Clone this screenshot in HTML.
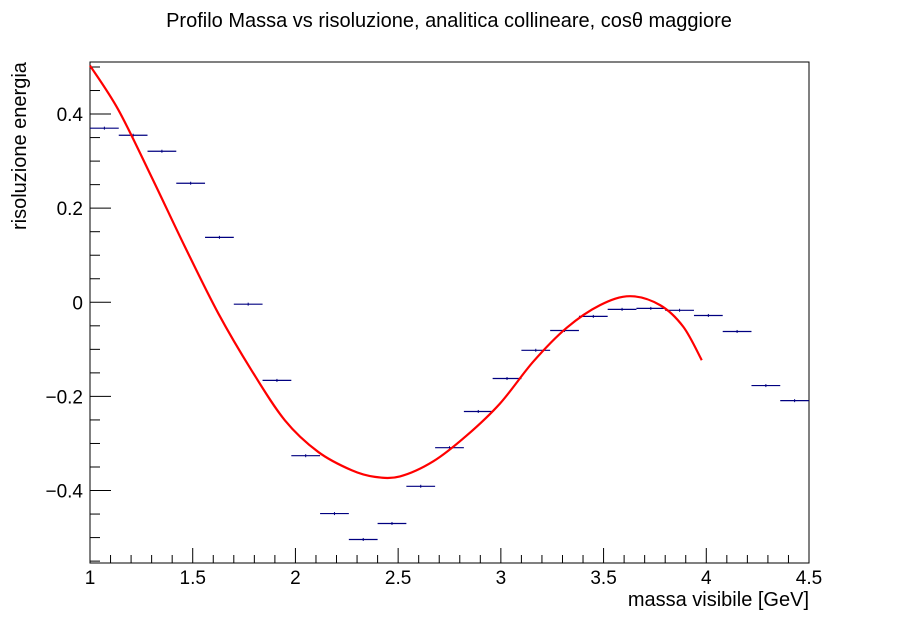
<!DOCTYPE html>
<html><head><meta charset="utf-8"><style>
body{margin:0;background:#fff}
svg text{font-family:"Liberation Sans",sans-serif}
</style></head><body>
<svg id="chart" width="898" height="626" xmlns="http://www.w3.org/2000/svg">
<rect width="898" height="626" fill="#fff"/>
<text x="449" y="27" font-size="20" text-anchor="middle">Profilo Massa vs risoluzione, analitica collineare, cosθ maggiore</text>
<rect x="90" y="62" width="719" height="501" fill="none" stroke="#000" stroke-width="1"/>
<g id="axes"></g>
<g id="series"></g>
<text x="809" y="606" font-size="20" text-anchor="end">massa visibile [GeV]</text>
<text transform="translate(26,230) rotate(-90)" font-size="20" text-anchor="start">risoluzione energia</text>
</svg>
<script>
const binCenters=[1.07,1.21,1.35,1.49,1.63,1.77,1.91,2.05,2.19,2.33,2.47,2.61,2.75,2.89,3.03,3.17,3.31,3.45,3.59,3.73,3.87,4.01,4.15,4.29,4.43];
const binValues=[0.370,0.355,0.321,0.253,0.138,-0.004,-0.166,-0.326,-0.449,-0.504,-0.470,-0.391,-0.309,-0.232,-0.162,-0.102,-0.060,-0.030,-0.015,-0.013,-0.017,-0.028,-0.062,-0.177,-0.209];
const fitX=[1.0,1.138,1.300,1.462,1.625,1.787,1.949,2.111,2.274,2.387,2.509,2.671,2.834,2.996,3.158,3.321,3.483,3.629,3.775,3.888,3.978];
const fitY=[0.503,0.409,0.266,0.118,-0.024,-0.145,-0.251,-0.318,-0.357,-0.371,-0.370,-0.338,-0.283,-0.215,-0.126,-0.054,-0.006,0.013,-0.006,-0.052,-0.123];
const xTicks=["1","1.5","2","2.5","3","3.5","4","4.5"];
const yTicks=[-0.4,-0.2,0,0.2,0.4];
const binWidth=0.14;
const X0=90,X1=809,Y0=563,Y1=62,xmin=1,xmax=4.5,ymin=-0.554,ymax=0.5106;
const sx=v=>X0+(v-xmin)/(xmax-xmin)*(X1-X0);
const sy=v=>Y0-(v-ymin)/(ymax-ymin)*(Y0-Y1);
const NS="http://www.w3.org/2000/svg";
function mk(t,a,p){const e=document.createElementNS(NS,t);for(const k in a)e.setAttribute(k,a[k]);p.appendChild(e);return e;}
const ax=document.getElementById('axes'),se=document.getElementById('series');
for(let i=0;i<=35;i++){const v=1+i*0.1;const x=sx(v);const major=i%5===0;
 const t=mk('line',{x1:x,x2:x,y1:Y0,y2:Y0-(major?15:8),stroke:'#000'},ax);
 
 }
xTicks.forEach(s=>{const e=mk('text',{x:sx(parseFloat(s)),y:Y0+21,'font-size':19,'text-anchor':'middle'},ax);e.textContent=s;
 
 });
for(let v=-0.55;v<=0.51;v+=0.05){const r=Math.round(v*100)/100;const major=Math.abs(Math.round(r*100)%20)===0;
 const t=mk('line',{x1:X0,x2:X0+(major?21:10),y1:sy(r),y2:sy(r),stroke:'#000'},ax);
 
 }
yTicks.forEach(v=>{const e=mk('text',{x:X0-7,y:sy(v)+7,'font-size':19,'text-anchor':'end'},ax);e.textContent=v===0?"0":(v<0?"\u2212"+Math.abs(v):String(v));
 
 });
binCenters.forEach((c,i)=>{const g=mk('g',{},se);
 
 
 const y=sy(binValues[i]);
 mk('line',{x1:sx(c-binWidth/2),x2:sx(c+binWidth/2),y1:y,y2:y,stroke:'#000080','stroke-width':1.2},g);
 mk('line',{x1:sx(c),x2:sx(c),y1:y-1.5,y2:y+1.5,stroke:'#000080','stroke-width':1},g);});
let pts=fitX.map((v,i)=>[sx(v),sy(fitY[i])]);
let d='M'+pts[0][0]+','+pts[0][1];
for(let i=0;i<pts.length-1;i++){const p0=pts[Math.max(0,i-1)],p1=pts[i],p2=pts[i+1],p3=pts[Math.min(pts.length-1,i+2)];
 d+=` C${p1[0]+(p2[0]-p0[0])/6},${p1[1]+(p2[1]-p0[1])/6} ${p2[0]-(p3[0]-p1[0])/6},${p2[1]-(p3[1]-p1[1])/6} ${p2[0]},${p2[1]}`;}
const fit=mk('path',{d:d,fill:'none',stroke:'#ff0000','stroke-width':2.2},se);


</script>
</body></html>
